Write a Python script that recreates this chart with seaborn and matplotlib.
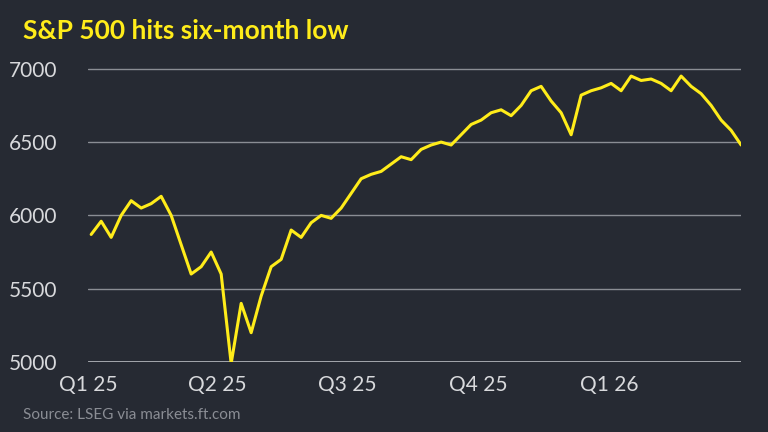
import matplotlib
matplotlib.use("Agg")
import matplotlib.pyplot as plt
import matplotlib.dates as mdates
import seaborn as sns
import pandas as pd

# weekly closes
dates = pd.date_range("2025-01-03", periods=66, freq="7D")
values = [5870, 5960, 5850, 6000, 6100,
          6050, 6080, 6130, 6000,
          5800, 5600, 5650, 5750, 5600,
          4990, 5400, 5200, 5450,
          5650, 5700, 5900, 5850,
          5950, 6000, 5980, 6050, 6150,
          6250, 6280, 6300, 6350,
          6400, 6380, 6450, 6480, 6500,
          6480, 6550, 6620, 6650,
          6700, 6720, 6680, 6750, 6850,
          6880, 6780, 6700, 6550,
          6820, 6850, 6870, 6900,
          6850, 6950, 6920, 6930, 6900,
          6850, 6950, 6880, 6830,
          6750, 6650, 6580, 6480]
tick_dates = pd.to_datetime(["2025-01-01", "2025-04-01", "2025-07-01", "2025-10-01", "2026-01-01"])
tick_labels = ["Q1 25", "Q2 25", "Q3 25", "Q4 25", "Q1 26"]
yticks = [5000, 5500, 6000, 6500, 7000]

df = pd.DataFrame({"date": dates, "close": values})

bg = "#262a33"
sns.set_style("dark")
plt.rcParams["font.family"] = ["Lato", "DejaVu Sans"]

fig = plt.figure(figsize=(7.68, 4.32), dpi=100, facecolor=bg)
ax = fig.add_axes([0.115, 0.162, 0.85, 0.706], facecolor=bg)

sns.lineplot(data=df, x="date", y="close", ax=ax, color="#ffec1a", linewidth=2.2)

ax.set_ylim(5000, 7080)
ax.set_xlim(pd.Timestamp("2025-01-01"), dates[-1])
ax.set_yticks(yticks)
ax.set_yticklabels([str(v) for v in yticks])
ax.set_xticks(tick_dates)
ax.set_xticklabels(tick_labels)
for v in yticks[1:]:
    ax.axhline(v, color="#8a8d94", linewidth=1, zorder=0)
ax.axhline(5000, color="#b0b2b8", linewidth=2, zorder=0)
for s in ax.spines.values():
    s.set_visible(False)
ax.grid(False)
ax.tick_params(axis="y", length=0, labelsize=15, colors="#d8d9dc", pad=22)
ax.tick_params(axis="x", length=6, width=1, color="#b0b2b8", labelsize=15, colors="#d8d9dc")
ax.set_xlabel("")
ax.set_ylabel("")

fig.text(0.03, 0.91, "S&P 500 hits six-month low", color="#ffec1a", fontsize=19, fontweight="bold")
fig.text(0.03, 0.03, "Source: LSEG via markets.ft.com", color="#8a8d94", fontsize=11)

fig.savefig("out.png", dpi=100, facecolor=bg)
